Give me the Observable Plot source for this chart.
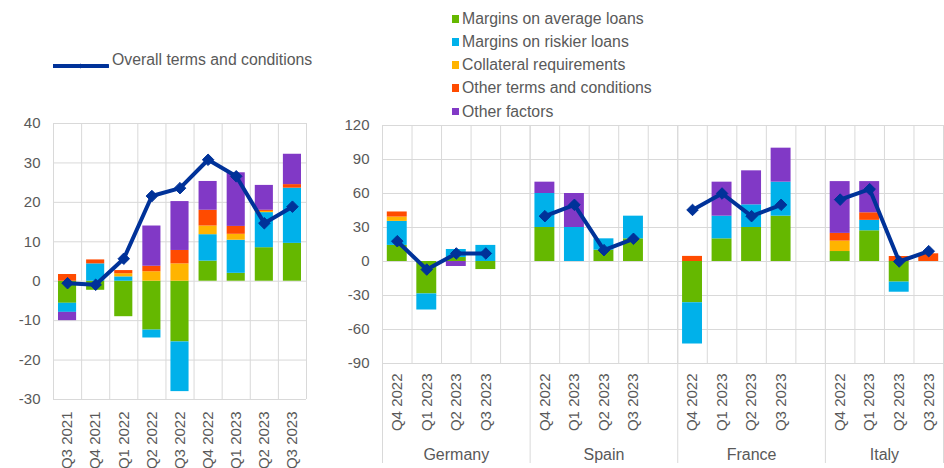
<!DOCTYPE html>
<html>
<head>
<meta charset="utf-8">
<script src="https://cdn.jsdelivr.net/npm/d3@7"></script>
<script src="https://cdn.jsdelivr.net/npm/@observablehq/plot@0.6"></script>
<style>
  html, body { margin: 0; padding: 0; background: #fff; }
  #wrap { position: relative; width: 944px; height: 468px; overflow: hidden; font-family: "Liberation Sans", Arial, sans-serif; color: #595959; }
  .chart { position: absolute; top: 0; }
  .leg { position: absolute; white-space: nowrap; font-size: 15.8px; line-height: 18px; color: #595959; }
  .sw { position: absolute; width: 7.5px; height: 7.5px; }
</style>
</head>
<body>
<div id="wrap"></div>
<script>
// ---------- data ----------
const series = ["Margins on average loans", "Margins on riskier loans", "Collateral requirements", "Other terms and conditions", "Other factors"];
const seriesColors = ["#65b800", "#00b1ea", "#ffb400", "#ff4b00", "#8139c6"];
const lineLabel = "Overall terms and conditions";
const lineColor = "#003299";

// euro area panel
const quarters = ["Q3 2021", "Q4 2021", "Q1 2022", "Q2 2022", "Q3 2022", "Q4 2022", "Q1 2023", "Q2 2023", "Q3 2023"];
const eaAverage     = [-5.6, -2.3, -9.0, -12.4, -15.4, 5.1, 2.0, 8.5, 9.6];
const eaRiskier     = [-2.3, 4.4, 1.1, -2.0, -12.6, 6.7, 8.4, 8.9, 14.0];
const eaCollateral  = [0, 0, 0.8, 2.4, 4.4, 2.2, 1.5, 0.3, 0];
const eaOtherTerms  = [1.7, 1.0, 0.8, 1.4, 3.4, 4.0, 2.0, 0.3, 0.9];
const eaOtherFactors = [-2.1, 0, 0, 10.2, 12.4, 7.3, 13.6, 6.3, 7.7];
const eaOverall     = [-0.5, -0.9, 5.7, 21.6, 23.6, 30.8, 26.6, 14.7, 18.9];
const eaTicks = [-30, -20, -10, 0, 10, 20, 30, 40];

// country panel (values in country order, 4 quarters each)
const countries = ["Germany", "Spain", "France", "Italy"];
const countryQuarters = ["Q4 2022", "Q1 2023", "Q2 2023", "Q3 2023"];
const ctyAverage     = [14.2, -28.6, 3.5, -7.1,   30, 0, 10, 20,   -36.4, 20, 30, 40,   8.8, 27.1, -18.2, 0];
const ctyRiskier     = [21.2, -14.2, 7.1, 14.2,   30, 30, 10, 20,  -36.4, 20, 20, 30,   0, 9.2, -8.9, 0];
const ctyCollateral  = [3.8, 0, 0, 0,             0, 0, 0, 0,      0, 0, 0, 0,          9.2, 0, 0, 0];
const ctyOtherTerms  = [4.5, 0, 0, 0,             0, 0, 0, 0,      4.5, 0, 0, 0,        6.8, 6.7, 4.4, 6.8];
const ctyOtherFactors = [0, 0, -4.4, 0,           10, 30, 0, 0,    0, 30, 30, 30,       45.7, 27.5, 0, 0];
const ctyOverall     = [17.9, -7.1, 7.1, 7.1,     40, 50, 10, 20,  45.5, 60, 40, 50,    54.6, 63.8, 0, 9.1];
const ctyTicks = [-90, -60, -30, 0, 30, 60, 90, 120];

// ---------- build tables ----------
const font = "'Liberation Sans', Arial, sans-serif";
const gridColor = "#d9d9d9";
const textColor = "#595959";

const eaSeriesValues = [eaAverage, eaRiskier, eaCollateral, eaOtherTerms, eaOtherFactors];
const eaBars = [];
eaSeriesValues.forEach((vals, s) => vals.forEach((v, i) => eaBars.push({i, series: series[s], value: v})));
const eaLine = eaOverall.map((v, i) => ({i, value: v}));

const slotsPerCountry = 5; // 4 quarters + gap
const nSlots = countries.length * slotsPerCountry - 1;
const ctySeriesValues = [ctyAverage, ctyRiskier, ctyCollateral, ctyOtherTerms, ctyOtherFactors];
const ctyBars = [];
ctySeriesValues.forEach((vals, s) => vals.forEach((v, k) => {
  const c = Math.floor(k / 4), q = k % 4;
  ctyBars.push({i: c * slotsPerCountry + q, country: countries[c], series: series[s], value: v});
}));
const ctyLine = ctyOverall.map((v, k) => {
  const c = Math.floor(k / 4), q = k % 4;
  return {i: c * slotsPerCountry + q, country: countries[c], value: v};
});
const ctyLabels = [];
countries.forEach((c, ci) => countryQuarters.forEach((q, qi) => ctyLabels.push({i: ci * slotsPerCountry + qi, label: q})));
const groupBounds = countries.map((c, ci) => ci * slotsPerCountry).concat([nSlots]);
const groupCenters = countries.map((c, ci) => ({name: c, x: (ci * slotsPerCountry + Math.min(ci * slotsPerCountry + slotsPerCountry, nSlots)) / 2}));

const colorScale = {domain: series, range: seriesColors};
const tickFont = 15;

// ---------- left chart ----------
const left = Plot.plot({
  width: 320, height: 468,
  marginLeft: 53, marginRight: 14, marginTop: 123, marginBottom: 69,
  x: {domain: [0, quarters.length], axis: null},
  y: {domain: [-30, 40], axis: null},
  color: colorScale,
  style: {fontFamily: font, fontSize: "15px", color: textColor, background: "transparent", overflow: "visible"},
  marks: [
    Plot.ruleY(eaTicks, {stroke: gridColor, strokeWidth: 1}),
    Plot.ruleX(d3.range(quarters.length + 1), {stroke: gridColor, strokeWidth: 1}),
    Plot.rectY(eaBars, {x: "i", interval: 1, y: "value", fill: "series", insetLeft: 5, insetRight: 5}),
    Plot.line(eaLine, {x: d => d.i + 0.5, y: "value", stroke: lineColor, strokeWidth: 4, strokeLinejoin: "round"}),
    Plot.dot(eaLine, {x: d => d.i + 0.5, y: "value", symbol: "diamond2", r: 5.2, fill: lineColor, stroke: lineColor, strokeWidth: 1}),
    Plot.axisY({ticks: eaTicks, label: null, tickSize: 0, tickPadding: 13, tickFormat: d => String(d), fontSize: tickFont, fill: textColor}),
    Plot.text(quarters, {x: (d, i) => i + 0.5, text: d => d, frameAnchor: "bottom", rotate: -90, textAnchor: "end", lineAnchor: "middle", dy: 12, fontSize: tickFont, fill: textColor})
  ]
});
left.classList.add("chart");
left.style.left = "0px";

// ---------- right chart ----------
const right = Plot.plot({
  width: 614, height: 468,
  marginLeft: 52, marginRight: 1, marginTop: 125, marginBottom: 105,
  x: {domain: [0, nSlots], axis: null},
  y: {domain: [-90, 120], axis: null},
  color: colorScale,
  style: {fontFamily: font, fontSize: "15px", color: textColor, background: "transparent", overflow: "visible"},
  marks: [
    Plot.ruleY(ctyTicks, {stroke: gridColor, strokeWidth: 1}),
    Plot.ruleX(d3.range(nSlots + 1), {stroke: gridColor, strokeWidth: 1}),
    Plot.ruleX(groupBounds, {stroke: gridColor, strokeWidth: 1, insetBottom: -100}),
    Plot.rectY(ctyBars, {x: "i", interval: 1, y: "value", fill: "series", insetLeft: 4.8, insetRight: 4.8}),
    Plot.line(ctyLine, {x: d => d.i + 0.5, y: "value", z: "country", stroke: lineColor, strokeWidth: 4, strokeLinejoin: "round"}),
    Plot.dot(ctyLine, {x: d => d.i + 0.5, y: "value", symbol: "diamond2", r: 5.2, fill: lineColor, stroke: lineColor, strokeWidth: 1}),
    Plot.axisY({ticks: ctyTicks, label: null, tickSize: 0, tickPadding: 13, tickFormat: d => String(d), fontSize: tickFont, fill: textColor}),
    Plot.text(ctyLabels, {x: d => d.i + 0.5, text: "label", frameAnchor: "bottom", rotate: -90, textAnchor: "end", lineAnchor: "middle", dy: 10, fontSize: tickFont, fill: textColor}),
    Plot.text(groupCenters, {x: "x", text: "name", frameAnchor: "bottom", lineAnchor: "middle", dy: 91, fontSize: 16, fill: textColor})
  ]
});
right.classList.add("chart");
right.style.left = "330px";

const wrap = document.getElementById("wrap");
wrap.appendChild(left);
wrap.appendChild(right);

// ---------- legends ----------
const lineLeg = document.createElement("div");
lineLeg.style.cssText = "position:absolute;left:53px;top:56px;width:56px;height:8px;";
lineLeg.innerHTML = `<svg width="56" height="8"><line x1="0" y1="4" x2="55" y2="4" stroke="${lineColor}" stroke-width="4" stroke-linecap="round"/><path d="M27.5,1.5L30,4L27.5,6.5L25,4Z" fill="${lineColor}"/></svg>`;
wrap.appendChild(lineLeg);
const lineText = document.createElement("div");
lineText.className = "leg";
lineText.style.left = "112px";
lineText.style.top = "51px";
lineText.textContent = lineLabel;
wrap.appendChild(lineText);

const rowY = [19, 42, 65, 88, 111.5];
series.forEach((s, k) => {
  const sw = document.createElement("div");
  sw.className = "sw";
  sw.style.left = "451.7px";
  sw.style.top = (rowY[k] - 3.75) + "px";
  sw.style.background = seriesColors[k];
  wrap.appendChild(sw);
  const t = document.createElement("div");
  t.className = "leg";
  t.style.left = "462px";
  t.style.top = (rowY[k] - 9) + "px";
  t.textContent = s;
  wrap.appendChild(t);
});
</script>
</body>
</html>
